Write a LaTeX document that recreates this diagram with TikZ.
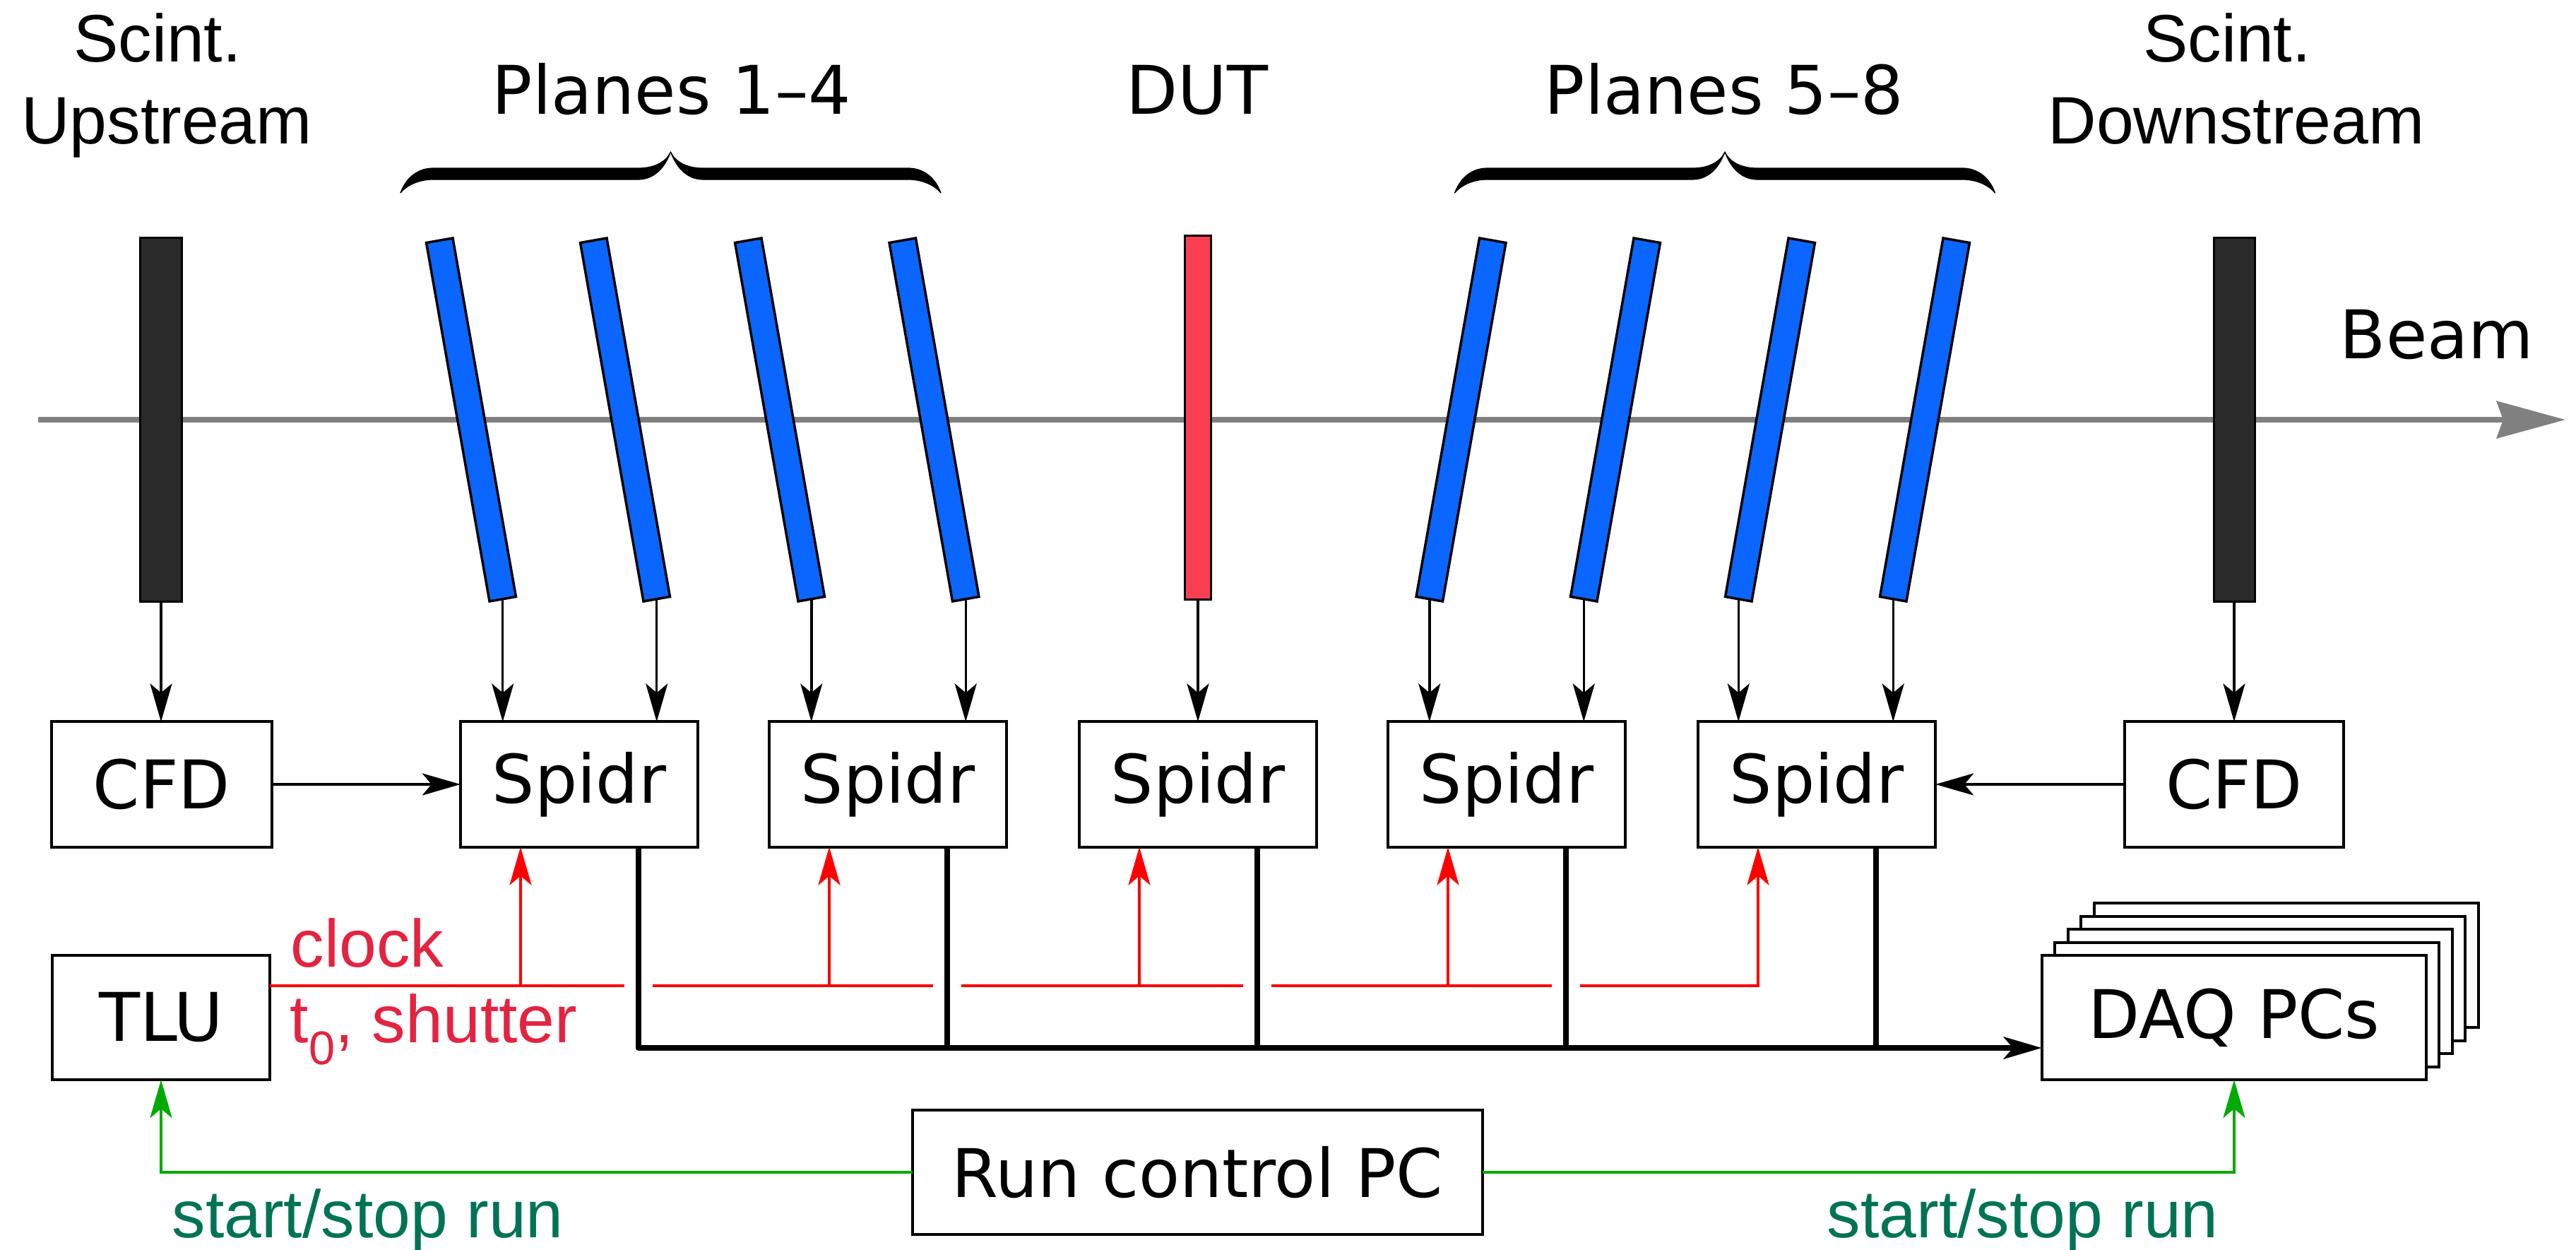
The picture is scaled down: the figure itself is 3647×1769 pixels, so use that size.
\documentclass[tikz,border=0pt]{standalone}
\usepackage{fontspec}
\setmainfont{DejaVu Sans}
\newfontfamily\arialf{Liberation Sans}
\usetikzlibrary{arrows.meta,calc}

\definecolor{scintgray}{RGB}{42,42,42}
\definecolor{planeblue}{RGB}{10,102,255}
\definecolor{dutred}{RGB}{250,64,80}
\definecolor{beamgray}{RGB}{128,128,128}
\definecolor{clkline}{RGB}{255,0,0}
\definecolor{clktext}{RGB}{227,35,64}
\definecolor{ctlline}{RGB}{0,170,0}
\definecolor{ctltext}{RGB}{0,115,85}

% left half of a curly brace, tip pointing up, local width 382.5
\newcommand\halfbrace{%
  \filldraw[line width=0.012cm, line join=round]
    (0,0) .. controls (8,-22) and (25,-35) .. (46,-35)
    -- (336.5,-35) .. controls (360,-35) and (376,-44) .. (382.5,-58)
    .. controls (376,-40) and (362,-19) .. (336.5,-19)
    -- (46,-19) .. controls (25,-19) and (8,-10) .. (0,0) -- cycle;}

\begin{document}
\begin{tikzpicture}[x=0.01cm, y=-0.01cm,
  txt/.style={font=\fontsize{27pt}{32pt}\selectfont, inner sep=0pt},
  atxt/.style={font=\fontsize{27pt}{32pt}\selectfont\arialf, inner sep=0pt},
  bar/.style={draw, line width=0.03cm, fill=scintgray, minimum width=0.58cm,
    minimum height=5.14cm, inner sep=0pt, outer sep=0pt},
  plane/.style={draw, line width=0.035cm, fill=planeblue, minimum width=0.38cm,
    minimum height=5.15cm, inner sep=0pt, outer sep=0pt},
  box/.style={draw, line width=0.04cm, fill=white, minimum height=1.77cm,
    inner sep=0pt, outer sep=0pt, font=\fontsize{27pt}{32pt}\selectfont},
  tip/.style={-{Stealth[length=0.54cm, width=0.31cm, inset=0.13cm]}},
  arr/.style={tip, line width=0.035cm},
  clk/.style={draw=clkline, line width=0.045cm},
  ctl/.style={draw=ctlline, line width=0.045cm, tip},
  busline/.style={line width=0.085cm, line join=round},
]
\useasboundingbox (0,0) rectangle (3647,1769);

% beam axis
\draw[beamgray, line width=0.085cm,
  -{Stealth[length=0.97cm, width=0.52cm, inset=0.09cm]}] (54,594) -- (3632,594);
\node[txt, anchor=base] (beam) at (3450,507) {Beam};

% scintillators, telescope planes and device under test
\node[bar] (su) at (228,594) {};
\node[bar] (sd) at (3163,594) {};
\node[plane, rotate=10] (p1) at (667,594) {};
\node[plane, rotate=10] (p2) at (885,594) {};
\node[plane, rotate=10] (p3) at (1104,594) {};
\node[plane, rotate=10] (p4) at (1322.5,594) {};
\node[plane, rotate=-10] (p5) at (2068.5,594) {};
\node[plane, rotate=-10] (p6) at (2287,594) {};
\node[plane, rotate=-10] (p7) at (2506,594) {};
\node[plane, rotate=-10] (p8) at (2725,594) {};
\node[plane, fill=dutred, minimum width=0.37cm, rotate=0] (dut) at (1696,591) {};

% headings
\node[atxt, anchor=base] (su1) at (223,87) {Scint.};
\node[atxt, anchor=base] (su2) at (236,203) {Upstream};
\node[atxt, anchor=base] (sd1) at (3153,87) {Scint.};
\node[atxt, anchor=base] (sd2) at (3166,203) {Downstream};
\node[txt, anchor=base] (pl14) at (951,161) {Planes 1–4};
\node[txt, anchor=base] (dutl) at (1695,161) {DUT};
\node[txt, anchor=base] (pl58) at (2441,161) {Planes 5–8};

% braces
\begin{scope}[shift={(567,273)}] \halfbrace \end{scope}
\begin{scope}[shift={(1332,273)}, xscale=-1] \halfbrace \end{scope}
\begin{scope}[shift={(2059.5,273)}] \halfbrace \end{scope}
\begin{scope}[shift={(2824.5,273)}, xscale=-1] \halfbrace \end{scope}

% readout boxes
\node[box, minimum width=3.11cm] (cfdl) at (229,1110) {CFD};
\node[box, minimum width=3.36cm] (s1) at (820,1110) {Spidr};
\node[box, minimum width=3.36cm] (s2) at (1257,1110) {Spidr};
\node[box, minimum width=3.36cm] (s3) at (1696,1110) {Spidr};
\node[box, minimum width=3.36cm] (s4) at (2133,1110) {Spidr};
\node[box, minimum width=3.36cm] (s5) at (2572,1110) {Spidr};
\node[box, minimum width=3.10cm] (cfdr) at (3163,1110) {CFD};
\node[box, minimum width=3.08cm, minimum height=1.76cm] (tlu) at (228,1440) {TLU};
\node[box, minimum width=8.07cm, minimum height=1.76cm] (run) at (1695.5,1659) {Run control PC};

% stack of DAQ machines
\foreach \k in {4,3,2,1}
  \draw[line width=0.04cm, fill=white] (2891+18.4*\k,1352-18.4*\k) rectangle ++(544,176);
\node[box, minimum width=5.44cm, minimum height=1.76cm] (daq) at (3163,1440) {DAQ PCs};

% signals from the sensors
\draw[arr] (su.south) -- (su.south |- cfdl.north);
\draw[arr] (sd.south) -- (sd.south |- cfdr.north);
\draw[arr] (p1.south) -- (p1.south |- s1.north);
\draw[arr] (p2.south) -- (p2.south |- s1.north);
\draw[arr] (p3.south) -- (p3.south |- s2.north);
\draw[arr] (p4.south) -- (p4.south |- s2.north);
\draw[arr] (dut.south) -- (dut.south |- s3.north);
\draw[arr] (p5.south) -- (p5.south |- s4.north);
\draw[arr] (p6.south) -- (p6.south |- s4.north);
\draw[arr] (p7.south) -- (p7.south |- s5.north);
\draw[arr] (p8.south) -- (p8.south |- s5.north);
\draw[arr] (cfdl.east) -- (s1.west);
\draw[arr] (cfdr.west) -- (s5.east);

% clock and shutter distribution
\coordinate (clk0) at ($(tlu.east)+(0,-45)$);
\foreach \i in {1,...,5} {
  \coordinate (r\i) at ($(s\i.south)+(-83,0)$);
  \coordinate (o\i) at ($(s\i.south)+(84,0)$);
}
\coordinate (bus) at (0,1483);
\draw[clk] (clk0) -- ($(o1 |- clk0)+(-20,0)$);
\draw[clk] ($(o1 |- clk0)+(20,0)$) -- ($(o2 |- clk0)+(-20,0)$);
\draw[clk] ($(o2 |- clk0)+(20,0)$) -- ($(o3 |- clk0)+(-20,0)$);
\draw[clk] ($(o3 |- clk0)+(20,0)$) -- ($(o4 |- clk0)+(-20,0)$);
\draw[clk, tip] ($(o4 |- clk0)+(20,0)$) -| (r5);
\foreach \i in {1,...,4}
  \draw[clk, tip] (r\i |- clk0) -- (r\i);
\node[atxt, text=clktext, anchor=base west] (clkl) at (411,1368) {clock};
\node[atxt, text=clktext, anchor=base west] (t0l) at (410,1475)
  {t\raisebox{-9pt}{\fontsize{19pt}{20pt}\selectfont 0}, shutter};

% data path to the DAQ machines
\draw[busline, tip] (o1) |- (daq.west |- bus);
\foreach \i in {2,...,5}
  \draw[busline] (o\i) -- (o\i |- bus);

% run control
\draw[ctl] (run.west) -| (tlu.south);
\draw[ctl] (run.east) -| (daq.south);
\node[atxt, text=ctltext, anchor=base west] (ssl) at (243,1751) {start/stop run};
\node[atxt, text=ctltext, anchor=base west] (ssr) at (2586,1751) {start/stop run};
\end{tikzpicture}
\end{document}
